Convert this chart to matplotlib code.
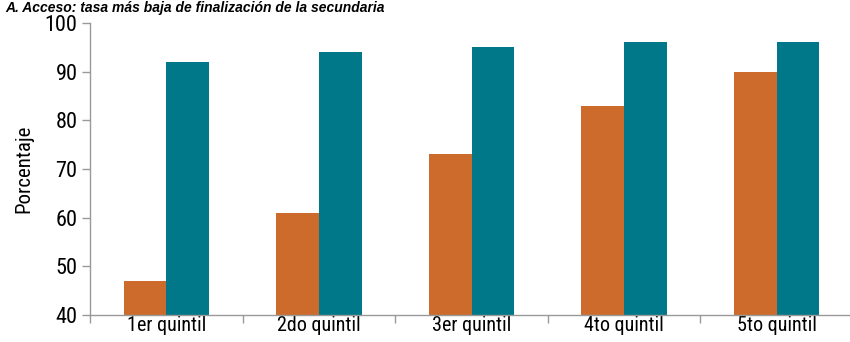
import matplotlib
matplotlib.use("Agg")
import matplotlib.pyplot as plt
import numpy as np
from matplotlib import font_manager
from matplotlib.font_manager import FontProperties

categories = ["1er quintil", "2do quintil", "3er quintil", "4to quintil", "5to quintil"]
serie_a = [47, 61, 73, 83, 90]
serie_b = [92, 94, 95, 96, 96]
yticks = [40, 50, 60, 70, 80, 90, 100]

# find a narrow/condensed regular font if available
def pick_narrow():
    fl = font_manager.fontManager.ttflist
    prefs = ["Liberation Sans Narrow", "Roboto Condensed", "Noto Sans", "Open Sans", "DejaVu Sans"]
    for p in prefs:
        for f in fl:
            if f.name != p:
                continue
            cond = ("Narrow" in f.name) or ("Condensed" in f.name) or \
                   (str(f.stretch) in ("condensed", "semi-condensed", "extra-condensed")) or \
                   ("Condensed" in f.fname) or ("Narrow" in f.fname)
            if not cond:
                continue
            if f.style != "normal":
                continue
            w = f.weight if isinstance(f.weight, int) else {"normal": 400, "regular": 400}.get(str(f.weight), 700)
            if w != 400:
                continue
            if "SemiCondensed" in f.fname or "ExtraCondensed" in f.fname:
                continue
            return f.fname
    return None

fn = pick_narrow()
plt.rcParams["font.family"] = ["Liberation Sans", "DejaVu Sans"]

def fp(size):
    if fn:
        return FontProperties(fname=fn, size=size)
    return FontProperties(family=["Liberation Sans", "DejaVu Sans"], size=size)

fig = plt.figure(figsize=(8.5, 3.42), dpi=100)
ax = fig.add_axes([90/850, 1-315/342, (853-90)/850, (315-23)/342])

x = np.arange(len(categories))
w = 0.28
ax.bar(x - w/2, serie_a, width=w, color="#CC6B2C", zorder=2)
ax.bar(x + w/2, serie_b, width=w, color="#00788A", zorder=2)

ax.set_xlim(-0.5, len(categories) - 0.5)
ax.set_ylim(40, 100)
ax.set_yticks(yticks)
ax.set_xticks(x)
ax.set_xticklabels(categories)
ax.set_xticks(np.arange(len(categories) + 1) - 0.5, minor=True)
ax.tick_params(axis="x", which="major", length=0, pad=1)
ax.tick_params(axis="x", which="minor", length=6, color="#999999", width=1)
ax.tick_params(axis="y", length=6, color="#999999", width=1, pad=3)

for lab in ax.get_xticklabels():
    lab.set_fontproperties(fp(14.5 if fn else 13.5))
for lab in ax.get_yticklabels():
    lab.set_fontproperties(fp(16 if fn else 14.5))

for s in ["top", "right"]:
    ax.spines[s].set_visible(False)
for s in ["left", "bottom"]:
    ax.spines[s].set_color("#999999")
    ax.spines[s].set_linewidth(1)

ax.set_ylabel("Porcentaje", fontproperties=fp(15 if fn else 13.5), labelpad=8)

fig.text(0.006, 0.998, "A. Acceso: tasa más baja de finalización de la secundaria",
         fontsize=10, fontweight="bold", fontstyle="italic", ha="left", va="top",
         family=["Liberation Sans", "DejaVu Sans"])

fig.savefig("out.png", dpi=100)
